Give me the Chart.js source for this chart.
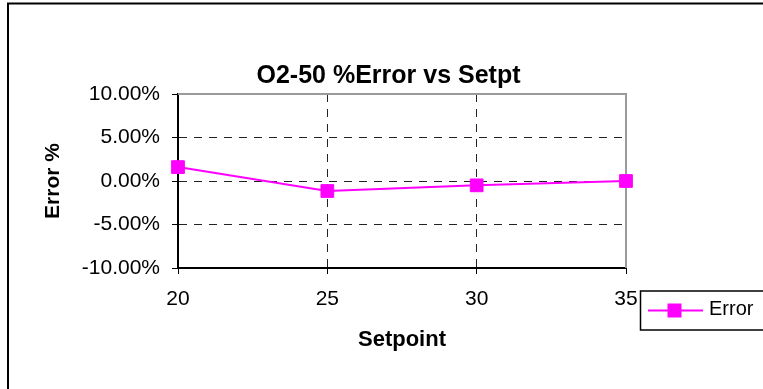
<!DOCTYPE html>
<html><head><meta charset="utf-8">
<script src="https://cdn.jsdelivr.net/npm/chart.js@4"></script>
<style>html,body{margin:0;padding:0;background:#fff}canvas{display:block}</style>
</head><body>
<canvas id="c" width="763" height="389"></canvas>
<script>
const chartTitle = 'O2-50 %Error vs Setpt';
const xAxisTitle = 'Setpoint';
const yAxisTitle = 'Error %';
const seriesName = 'Error';
const setpoints = [20, 25, 30, 35];
const errors = [0.016, -0.0115, -0.005, 0.0];
const xTicks = [20, 25, 30, 35];
const yTicks = [-0.10, -0.05, 0, 0.05, 0.10];

const FONT = "'Liberation Sans', Arial, sans-serif";
const MAGENTA = '#FF00FF';

const decorPlugin = {
  id: 'decor',
  beforeDatasetsDraw(chart) {
    const {ctx, chartArea: a} = chart;
    ctx.save();
    ctx.strokeStyle = '#9a9a9a';
    ctx.lineWidth = 2;
    ctx.beginPath();
    ctx.moveTo(a.left, a.top);
    ctx.lineTo(a.right, a.top);
    ctx.lineTo(a.right, a.bottom);
    ctx.stroke();
    ctx.restore();
  },
  afterDraw(chart) {
    const {ctx} = chart;
    const ds = chart.data.datasets[0];
    ctx.save();
    ctx.strokeStyle = '#000';
    ctx.lineWidth = 2;
    ctx.beginPath();
    ctx.moveTo(8, 389);
    ctx.lineTo(8, 3.5);
    ctx.lineTo(763, 3.5);
    ctx.stroke();
    ctx.lineWidth = 1.5;
    ctx.strokeRect(640.5, 291, 140, 39);
    ctx.strokeStyle = ds.borderColor;
    ctx.lineWidth = 2;
    ctx.beginPath();
    ctx.moveTo(648, 310.5);
    ctx.lineTo(703, 310.5);
    ctx.stroke();
    ctx.fillStyle = ds.pointBackgroundColor;
    ctx.fillRect(667.5, 303.5, 14, 14);
    ctx.fillStyle = '#000';
    ctx.font = '20px ' + FONT;
    ctx.textAlign = 'left';
    ctx.textBaseline = 'middle';
    ctx.fillText(ds.label, 709, 309);
    ctx.restore();
  }
};

new Chart(document.getElementById('c'), {
  type: 'line',
  data: {
    datasets: [{
      label: seriesName,
      data: setpoints.map((x, i) => ({x: x, y: errors[i]})),
      borderColor: MAGENTA,
      backgroundColor: MAGENTA,
      pointBackgroundColor: MAGENTA,
      pointBorderColor: MAGENTA,
      borderWidth: 2,
      pointStyle: 'rect',
      pointRadius: 9,
      pointBorderWidth: 1,
      tension: 0,
      clip: false,
      yAxisID: 'y'
    }]
  },
  options: {
    responsive: false,
    animation: false,
    events: [],
    layout: {padding: {left: 14, right: 0, top: 0, bottom: 0}},
    plugins: {
      legend: {display: false},
      tooltip: {enabled: false},
      title: {
        display: true, text: chartTitle, color: '#000',
        font: {family: FONT, size: 25, weight: 'bold', lineHeight: 1.2},
        padding: {top: 61, bottom: 3}
      }
    },
    scales: {
      x: {
        type: 'linear', position: 'bottom', min: 20, max: 35,
        afterBuildTicks: s => { s.ticks = xTicks.map(v => ({value: v})); },
        afterFit: s => { s.height = 121; },
        ticks: {color: '#000', font: {family: FONT, size: 21}, padding: 13, maxRotation: 0, autoSkip: false},
        grid: {color: '#222', lineWidth: 1, tickLength: 6, tickColor: '#000', tickWidth: 1},
        border: {display: true, color: '#000', width: 2, dash: [8, 7]},
        title: {display: true, text: xAxisTitle, color: '#000',
          font: {family: FONT, size: 22, weight: 'bold'}, padding: {top: 0, bottom: 36}}
      },
      y: {
        type: 'linear', position: 'left', min: -0.1, max: 0.1,
        afterBuildTicks: s => { s.ticks = yTicks.map(v => ({value: v})); },
        afterFit: s => { s.width = 164; },
        ticks: {color: '#000', font: {family: FONT, size: 21}, padding: 12,
          callback: v => (v * 100).toFixed(2) + '%'},
        grid: {color: '#222', lineWidth: 1, tickLength: 6, tickColor: '#000', tickWidth: 1},
        border: {display: true, color: '#000', width: 2, dash: [8, 7]},
        title: {display: true, text: yAxisTitle, color: '#000',
          font: {family: FONT, size: 21, weight: 'bold'}, padding: {top: 27, bottom: 0}}
      },
      yR: {
        type: 'linear', position: 'right', display: true,
        grid: {display: false, drawTicks: false},
        border: {display: false},
        ticks: {display: false},
        afterFit: s => { s.width = 137; }
      }
    }
  },
  plugins: [decorPlugin]
});
</script>
</body></html>
